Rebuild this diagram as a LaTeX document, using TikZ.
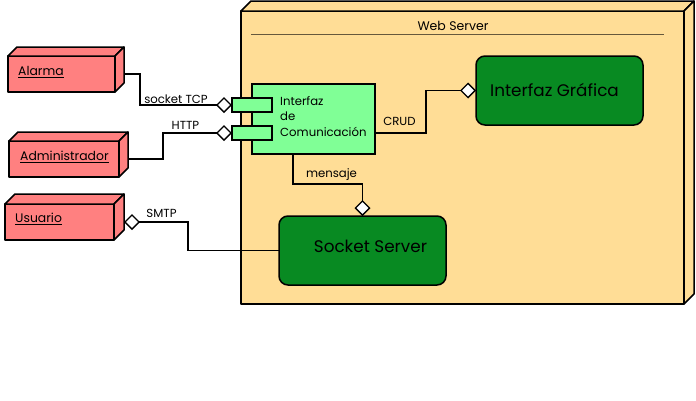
\documentclass[tikz,border=0pt]{standalone}
\usepackage{fontspec}
\setmainfont{Poppins}
\usetikzlibrary{arrows.meta,calc}
\definecolor{wsfill}{RGB}{255,221,150}
\definecolor{redfill}{RGB}{255,128,128}
\definecolor{ltgreen}{RGB}{128,255,150}
\definecolor{dkgreen}{RGB}{8,138,34}
\tikzset{
  box3d/.style={draw=black,line width=1.5pt,line join=round,inner sep=0pt,outer sep=0pt,rectangle},
  face/.style={draw=black,line width=1.5pt,line join=round},
  comp/.style={draw=black,line width=1.4pt,fill=ltgreen,inner sep=0pt,outer sep=0pt,rectangle},
  rbox/.style={draw=black,line width=1.5pt,fill=dkgreen,rounded corners=9pt,inner sep=0pt,outer sep=0pt,rectangle},
  conn/.style={draw=black,line width=1.4pt},
  lbl/.style={font=\fontsize{11.7}{13}\selectfont,inner sep=0pt},
  redlbl/.style={font=\fontsize{12.4}{14}\selectfont,inner sep=0pt,anchor=west},
  biglbl/.style={font=\fontsize{16.8}{19}\selectfont,inner sep=0pt},
}
\begin{document}
\begin{tikzpicture}[x=1pt,y=-1pt]
\useasboundingbox (0,0) rectangle (696,400);
% Web Server
\node[box3d,fill=wsfill,minimum width=443pt,minimum height=293pt] (ws) at (462.5,157.5) {};
\draw[face,fill=wsfill] (ws.north west) -- ++(10,-10) -- ($(ws.north east)+(10,-10)$) -- (ws.north east) -- cycle;
\draw[face,fill=wsfill] (ws.north east) -- ++(10,-10) -- ($(ws.south east)+(10,-10)$) -- (ws.south east) -- cycle;
\node[lbl,font=\fontsize{12.5}{14}\selectfont] (wst) at (453,26) {Web Server};
\draw[line width=0.9pt,color=black!60!wsfill] (251,34) coordinate (wl1) -- (664,34) coordinate (wl2);
% red nodes
\node[box3d,fill=redfill,minimum width=107pt,minimum height=36pt] (al) at (61.5,74) {};
\draw[face,fill=redfill] (al.north west) -- ++(9,-9) -- ($(al.north east)+(9,-9)$) -- (al.north east) -- cycle;
\draw[face,fill=redfill] (al.north east) -- ++(9,-9) -- ($(al.south east)+(9,-9)$) -- (al.south east) -- cycle;
\node[redlbl] (alt) at (18,72) {\underline{Alarma}};
\node[box3d,fill=redfill,minimum width=110pt,minimum height=36pt] (ad) at (64,159) {};
\draw[face,fill=redfill] (ad.north west) -- ++(9,-9) -- ($(ad.north east)+(9,-9)$) -- (ad.north east) -- cycle;
\draw[face,fill=redfill] (ad.north east) -- ++(9,-9) -- ($(ad.south east)+(9,-9)$) -- (ad.south east) -- cycle;
\node[redlbl] (adt) at (20,157) {\underline{Administrador}};
\node[box3d,fill=redfill,minimum width=109pt,minimum height=36pt] (us) at (59.5,222) {};
\draw[face,fill=redfill] (us.north west) -- ++(10,-10) -- ($(us.north east)+(10,-10)$) -- (us.north east) -- cycle;
\draw[face,fill=redfill] (us.north east) -- ++(10,-10) -- ($(us.south east)+(10,-10)$) -- (us.south east) -- cycle;
\node[redlbl] (ust) at (15,219) {\underline{Usuario}};
% component
\node[comp,minimum width=123pt,minimum height=70pt] (ic) at (313.5,119) {};
\node[comp,minimum width=40pt,minimum height=14pt] (p1) at (252,105) {};
\node[comp,minimum width=40pt,minimum height=14pt] (p2) at (252,133) {};
\node[lbl,anchor=north west,align=left,font=\fontsize{11.7}{15.5}\selectfont] (ict) at (280,96) {Interfaz\\de\\Comunicación};
% green rounded
\node[rbox,minimum width=167pt,minimum height=69pt] (ig) at (559.5,90.5) {};
\node[biglbl] (igt) at (554.5,90) {Interfaz Gráfica};
\node[rbox,minimum width=167pt,minimum height=69pt] (ss) at (362.5,250.5) {};
\node[biglbl] (sst) at (370.5,246) {Socket Server};
% connectors
\coordinate (a0) at ($(al.east)+(10,0)$);
\draw[conn,-{Diamond[fill=white,length=16pt,width=16pt]}] (a0) -- (140,74) |- (p1.west);
\coordinate (d0) at ($(ad.east)+(9,0)$);
\draw[conn,-{Diamond[fill=white,length=16pt,width=16pt]}] (d0) -- (163,159) |- (p2.west);
\coordinate (u0) at ($(us.east)+(10,0)$);
\draw[conn,{Diamond[fill=white,length=16pt,width=16pt]}-] (u0) -- (188,222) |- (ss.west);
\coordinate (c0) at (375,133);
\draw[conn,-{Diamond[fill=white,length=16pt,width=16pt]}] (c0) -- (426,133) |- (ig.west);
\coordinate (m0) at (293,154);
\draw[conn,-{Diamond[fill=white,length=16pt,width=16pt]}] (m0) -- (293,184) -| (ss.north);
% labels
\node[lbl] (l1) at (176,99) {socket TCP};
\node[lbl] (l2) at (185.5,125) {HTTP};
\node[lbl] (l3) at (161.5,213) {SMTP};
\node[lbl] (l4) at (399.5,121) {CRUD};
\node[lbl] (l5) at (331.5,175) {mensaje};
\end{tikzpicture}
\end{document}
